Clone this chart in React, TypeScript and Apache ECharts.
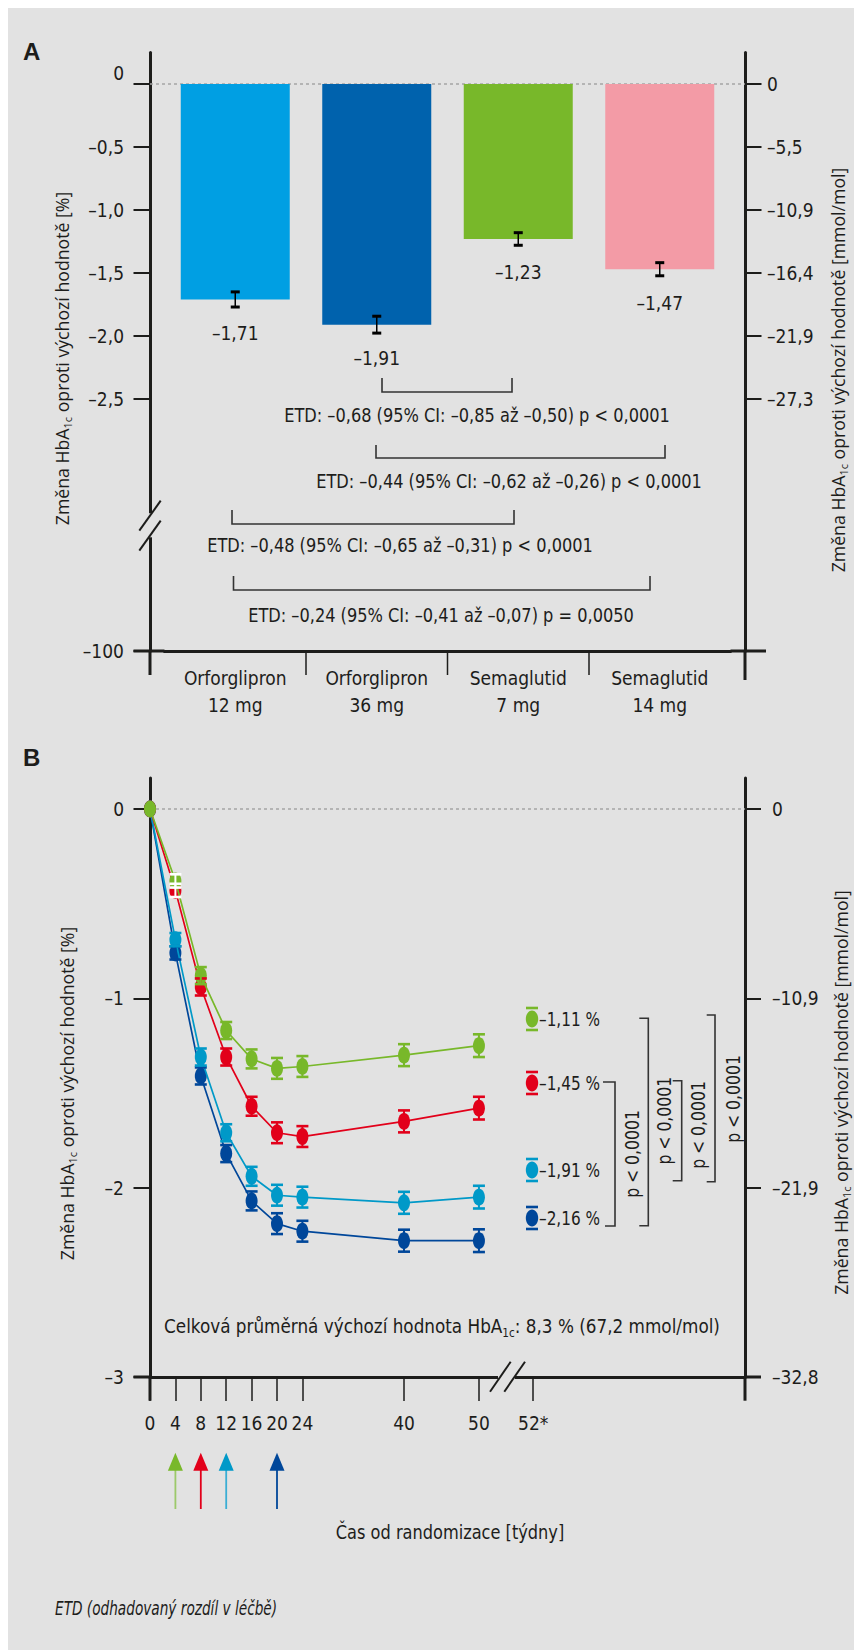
import React, { useEffect, useRef } from 'react';
import * as echarts from 'echarts';

// ---------- DATA ----------
const CATEGORIES = ['Orforglipron\n12 mg', 'Orforglipron\n36 mg', 'Semaglutid\n7 mg', 'Semaglutid\n14 mg'];
const BAR_VALUES = [-1.71, -1.91, -1.23, -1.47];
const BAR_ERRORS = [0.06, 0.067, 0.05, 0.052];
const BAR_COLORS = ['#009fe3', '#0062ad', '#78b82a', '#f39ba6'];

const A_TICK_VALUES = [0, -0.5, -1, -1.5, -2, -2.5, -4.5];
const A_TICK_LABELS = ['0', '–0,5', '–1,0', '–1,5', '–2,0', '–2,5', '–100'];
const A_RIGHT_VALUES = [0, -0.5, -1, -1.5, -2, -2.5];
const A_RIGHT_LABELS = ['0', '–5,5', '–10,9', '–16,4', '–21,9', '–27,3'];

const ETD_TEXTS = [
  'ETD: –0,68 (95% CI: –0,85 až –0,50) p < 0,0001',
  'ETD: –0,44 (95% CI: –0,62 až –0,26) p < 0,0001',
  'ETD: –0,48 (95% CI: –0,65 až –0,31) p < 0,0001',
  'ETD: –0,24 (95% CI: –0,41 až –0,07) p = 0,0050',
];

const WEEKS = [0, 4, 8, 12, 16, 20, 24, 40, 50];
const DBLUE_VALUES = [0, -0.76, -1.41, -1.82, -2.07, -2.19, -2.23, -2.28, -2.28];
const CYAN_VALUES = [0, -0.69, -1.31, -1.71, -1.94, -2.04, -2.05, -2.08, -2.05];
const RED_VALUES = [0, -0.43, -0.94, -1.31, -1.57, -1.71, -1.73, -1.65, -1.58];
const GREEN_VALUES = [0, -0.38, -0.88, -1.17, -1.32, -1.37, -1.36, -1.3, -1.25];
const B_ERRORS = [0, 0.035, 0.045, 0.045, 0.05, 0.055, 0.055, 0.058, 0.06];
const OPEN_MARKER_WEEK = 4;

const B_LEGEND_LABELS = ['–1,11 %', '–1,45 %', '–1,91 %', '–2,16 %'];
const B_P_TEXT = 'p < 0,0001';

const X_TICK_WEEKS = [0, 4, 8, 12, 16, 20, 24, 40, 50, 52];
const X_TICK_LABELS = ['0', '4', '8', '12', '16', '20', '24', '40', '50', '52*'];
const B_LEFT_VALUES = [0, -1, -2, -3];
const B_LEFT_LABELS = ['0', '–1', '–2', '–3'];
const B_RIGHT_LABELS = ['0', '–10,9', '–21,9', '–32,8'];
const ARROW_WEEKS = [4, 8, 12, 20];

// ---------- STYLE / LAYOUT ----------
const INK = '#1d1d1b';
const BG = '#e2e2e2';
const GREEN = '#78b82a';
const RED = '#e2001a';
const CYAN = '#0099c8';
const DBLUE = '#00479a';
const NARROW = "'Liberation Sans Narrow', 'Arial Narrow', 'DejaVu Sans Condensed', sans-serif";
const SANS = "'Open Sans', 'Noto Sans', sans-serif";
const FS = 19;

const GA = { left: 156.5, top: 44.5, width: 566, height: 598.5, yMin: -4.5, yMax: 0.25 };
const GB = { left: 142, top: 770, width: 595, height: 599, yMin: -3, yMax: 0.1637, xMax: 93.7 };

// stretched time axis of the figure (piecewise linear: 0–40 wk, 40–50 wk, break to 52*)
const axisPos = (w: number) => (w <= 40 ? w : w <= 50 ? 40 + (w - 40) * 1.18 : 51.8 + (w - 50) * 4.27);
const X_TICK_POS = X_TICK_WEEKS.map(axisPos);

const yA = (v: number) => GA.top + ((GA.yMax - v) / (GA.yMax - GA.yMin)) * GA.height;
const yB = (v: number) => GB.top + ((GB.yMax - v) / (GB.yMax - GB.yMin)) * GB.height;
const xB = (w: number) => GB.left + (axisPos(w) / GB.xMax) * GB.width;
const bandA = GA.width / CATEGORIES.length;

const lookup = (vals: number[], labels: string[]) => (v: number) => {
  const i = vals.findIndex((x) => Math.abs(x - v) < 1e-6);
  return i >= 0 ? labels[i] : '';
};

const txt = (x: number, y: number, text: string, o: any = {}) => ({
  type: 'text',
  x,
  y,
  z: 20,
  rotation: o.rotation || 0,
  scaleX: o.scaleX || 1,
  scaleY: 1,
  style: {
    text,
    fontSize: o.fontSize || FS,
    fontFamily: o.fontFamily || NARROW,
    fontStyle: o.fontStyle || 'normal',
    fontWeight: o.fontWeight || 'normal',
    fill: o.fill || INK,
    align: o.align || 'center',
    verticalAlign: 'middle',
    textAlign: o.align || 'center',
    textVerticalAlign: 'middle',
    lineHeight: o.lineHeight,
    rich: o.rich,
  },
});

const ln = (x1: number, y1: number, x2: number, y2: number, w = 1.5, c = INK, z = 20, dash?: number[]) => ({
  type: 'line',
  z,
  shape: { x1, y1, x2, y2 },
  style: { stroke: c, lineWidth: w, lineDash: dash },
});

const poly = (points: number[][], w = 1.5, c = '#333', z = 20) => ({
  type: 'polyline',
  z,
  shape: { points },
  style: { stroke: c, lineWidth: w, fill: null },
});

const errRender = (color: string, capW: number, capH: number, lw: number) => (params: any, api: any) => {
  const x = api.value(0);
  const v = api.value(1);
  const e = api.value(2);
  const c = api.value(3) ? '#ffffff' : color;
  const p0 = api.coord([x, v + e]);
  const p1 = api.coord([x, v - e]);
  return {
    type: 'group',
    children: [
      { type: 'line', shape: { x1: p0[0], y1: p0[1], x2: p1[0], y2: p1[1] }, style: { stroke: c, lineWidth: lw } },
      { type: 'rect', shape: { x: p0[0] - capW / 2, y: p0[1] - capH / 2, width: capW, height: capH }, style: { fill: c } },
      { type: 'rect', shape: { x: p1[0] - capW / 2, y: p1[1] - capH / 2, width: capW, height: capH }, style: { fill: c } },
    ],
  };
};

function buildOption() {
  const axisLabelBase = { fontSize: FS, fontFamily: NARROW, color: INK };
  const axisLineBase = { show: true, onZero: false, lineStyle: { color: INK, width: 3 } };

  const lineSeriesB = [
    { vals: DBLUE_VALUES, color: DBLUE, open: false },
    { vals: CYAN_VALUES, color: CYAN, open: false },
    { vals: RED_VALUES, color: RED, open: true },
    { vals: GREEN_VALUES, color: GREEN, open: true },
  ];

  const series: any[] = [
    {
      type: 'bar',
      xAxisIndex: 0,
      yAxisIndex: 0,
      barWidth: 109,
      data: BAR_VALUES.map((v, i) => ({ value: v, itemStyle: { color: BAR_COLORS[i] } })),
      label: {
        show: true,
        position: 'bottom',
        distance: 24,
        formatter: (p: any) => '–' + Math.abs(p.value).toFixed(2).replace('.', ','),
        ...axisLabelBase,
      },
    },
    {
      type: 'custom',
      xAxisIndex: 0,
      yAxisIndex: 0,
      z: 5,
      clip: false,
      renderItem: errRender('#000000', 9, 3, 1.5),
      data: BAR_VALUES.map((v, i) => [i, v, BAR_ERRORS[i], 0]),
    },
  ];

  lineSeriesB.forEach((s, k) => {
    series.push({
      type: 'line',
      xAxisIndex: 1,
      yAxisIndex: 2,
      z: 2 + k * 0.1,
      symbol: 'circle',
      symbolSize: [12, 17],
      showSymbol: true,
      itemStyle: { color: s.color },
      lineStyle: { color: s.color, width: 1.7 },
      data: WEEKS.map((w, i) => [axisPos(w), s.vals[i]]),
    });
    series.push({
      type: 'custom',
      xAxisIndex: 1,
      yAxisIndex: 2,
      z: 5 + k * 0.1,
      clip: false,
      renderItem: errRender(s.color, 12, 2.6, 2),
      data: WEEKS.map((w, i) => [axisPos(w), s.vals[i], B_ERRORS[i], s.open && w === OPEN_MARKER_WEEK ? 1 : 0]).filter(
        (d) => d[2] > 0
      ),
    });
  });

  const subRich = (fs: number, family: string) => ({
    s: { fontSize: fs, fontFamily: family, lineHeight: fs, verticalAlign: 'bottom', fill: INK },
  });

  const g: any[] = [];
  // zero reference lines
  g.push(ln(142, yA(0), 737, yA(0), 1.5, '#a5a5a5', 1, [3, 3]));
  g.push(ln(142, yB(0), 737, yB(0), 1.5, '#a5a5a5', 1, [3, 3]));

  // axis extensions (panel A)
  g.push(ln(142, GA.top + GA.height, 142, 667, 3, INK, 3));
  g.push(ln(737, GA.top + GA.height, 737, 672, 3, INK, 3));
  g.push(ln(125.5, GA.top + GA.height, GA.left, GA.top + GA.height, 3, INK, 3));
  g.push(ln(GA.left + GA.width, GA.top + GA.height, 758, GA.top + GA.height, 3, INK, 3));
  for (let i = 1; i < CATEGORIES.length; i++) {
    const x = GA.left + i * bandA;
    g.push(ln(x, GA.top + GA.height, x, 667, 1.5, INK, 3));
  }
  // axis extensions (panel B)
  const bBot = GB.top + GB.height;
  g.push(ln(142, bBot, 142, 1392.7, 3, INK, 3));
  g.push(ln(737, bBot, 737, 1392.7, 3, INK, 3));
  g.push(ln(125.5, bBot, 142, bBot, 3, INK, 3));
  g.push(ln(737, bBot, 753, bBot, 3, INK, 3));

  // axis breaks
  g.push({ type: 'rect', z: 50, shape: { x: 139, y: 505.3, width: 6, height: 24 }, style: { fill: BG } });
  g.push(ln(131.3, 522.7, 152.7, 492.7, 2, INK, 51));
  g.push(ln(131.3, 542.7, 152.7, 512.7, 2, INK, 51));
  g.push({ type: 'rect', z: 50, shape: { x: 490, y: bBot - 3, width: 17, height: 6 }, style: { fill: BG } });
  g.push(ln(482, 1383.7, 502.7, 1353.7, 2, INK, 51));
  g.push(ln(496.3, 1383.7, 517, 1353.7, 2, INK, 51));

  // ETD brackets (panel A)
  const brA = [
    { x1: 374, x2: 504, top: 370, bot: 384, tx: 469, ty: 407 },
    { x1: 368, x2: 657, top: 437, bot: 450, tx: 501, ty: 473 },
    { x1: 224, x2: 506, top: 502, bot: 516, tx: 392, ty: 537 },
    { x1: 225.5, x2: 642, top: 568, bot: 582, tx: 433, ty: 607 },
  ];
  brA.forEach((b, i) => {
    g.push(poly([[b.x1, b.top], [b.x1, b.bot], [b.x2, b.bot], [b.x2, b.top]], 1.6, '#333'));
    g.push(txt(b.tx, b.ty, ETD_TEXTS[i], { fontSize: 20, scaleX: 0.9 }));
  });

  // legend-like end labels (panel B)
  const legY = [1011, 1075, 1162, 1210];
  const legC = [GREEN, RED, CYAN, DBLUE];
  legY.forEach((y, i) => {
    g.push({ type: 'ellipse', z: 20, shape: { cx: 524, cy: y, rx: 6.2, ry: 8.5 }, style: { fill: legC[i] } });
    g.push({ type: 'rect', z: 20, shape: { x: 518, y: y - 12.3, width: 12, height: 2.6 }, style: { fill: legC[i] } });
    g.push({ type: 'rect', z: 20, shape: { x: 518, y: y + 9.7, width: 12, height: 2.6 }, style: { fill: legC[i] } });
    g.push(txt(531, y, B_LEGEND_LABELS[i], { align: 'left', fontSize: 20, scaleX: 0.85 }));
  });

  // p-value brackets (panel B)
  const brB = [
    { s1: 595, s2: 597, x: 607, y1: 1074, y2: 1218, tx: 623.7, ty: 1146 },
    { s1: 631.3, s2: 631.3, x: 640.3, y1: 1010.3, y2: 1217.7, tx: 656, ty: 1112.7 },
    { s1: 664.7, s2: 664.7, x: 673.7, y1: 1072.7, y2: 1172.7, tx: 690.3, ty: 1117 },
    { s1: 698.7, s2: 698.7, x: 707, y1: 1007, y2: 1173.7, tx: 725.3, ty: 1091 },
  ];
  brB.forEach((b) => {
    g.push(poly([[b.s1, b.y1], [b.x, b.y1], [b.x, b.y2], [b.s2, b.y2]], 1.6, '#333'));
    g.push(txt(b.tx, b.ty, B_P_TEXT, { rotation: Math.PI / 2, fontSize: 20, scaleX: 0.87 }));
  });

  // arrows
  const arrC = [GREEN, RED, CYAN, DBLUE];
  const shaftC = ['#9cc96a', RED, '#3aaed4', DBLUE];
  ARROW_WEEKS.forEach((w, i) => {
    const x = xB(w);
    g.push(ln(x, 1461, x, 1501, 1.8, shaftC[i], 20));
    g.push({
      type: 'polygon',
      z: 21,
      shape: { points: [[x, 1444.7], [x - 7.5, 1462.7], [x + 7.5, 1462.7]] },
      style: { fill: arrC[i] },
    });
  });

  // titles & notes
  g.push(txt(15, 43, 'A', { align: 'left', fontWeight: 'bold', fontSize: 24, fontFamily: "'Liberation Sans', sans-serif" }));
  g.push(txt(15, 749, 'B', { align: 'left', fontWeight: 'bold', fontSize: 24, fontFamily: "'Liberation Sans', sans-serif" }));

  const titleOpts = (rot: number) => ({
    rotation: rot,
    fontFamily: SANS,
    fontSize: 17.7,
    lineHeight: 22,
    rich: subRich(11, SANS),
  });
  g.push(txt(53.5, 350.5, 'Změna HbA{s|1c} oproti výchozí hodnotě [%]', titleOpts(Math.PI / 2)));
  g.push(txt(830, 362, 'Změna HbA{s|1c} oproti výchozí hodnotě [mmol/mol]', titleOpts(Math.PI / 2)));
  g.push(txt(58.5, 1085.5, 'Změna HbA{s|1c} oproti výchozí hodnotě [%]', titleOpts(Math.PI / 2)));
  g.push(txt(833, 1084.5, 'Změna HbA{s|1c} oproti výchozí hodnotě [mmol/mol]', titleOpts(Math.PI / 2)));

  g.push(
    txt(434, 1318.7, 'Celková průměrná výchozí hodnota HbA{s|1c}: 8,3 % (67,2 mmol/mol)', {
      fontSize: 20,
      scaleX: 0.935,
      lineHeight: 26,
      rich: subRich(12.5, NARROW),
    })
  );
  g.push(txt(442, 1523.7, 'Čas od randomizace [týdny]', { fontSize: 20, scaleX: 0.9 }));
  g.push(txt(47, 1600, 'ETD (odhadovaný rozdíl v léčbě)', { align: 'left', fontStyle: 'italic', fontSize: 19, scaleX: 0.8 }));

  return {
    animation: false,
    backgroundColor: BG,
    grid: [
      { left: GA.left, top: GA.top, width: GA.width, height: GA.height },
      { left: GB.left, top: GB.top, width: GB.width, height: GB.height },
    ],
    xAxis: [
      {
        type: 'category',
        gridIndex: 0,
        data: CATEGORIES,
        axisLine: axisLineBase,
        axisTick: { show: false },
        splitLine: { show: false },
        axisLabel: { ...axisLabelBase, margin: 13.5, lineHeight: 27, interval: 0 },
      },
      {
        type: 'value',
        gridIndex: 1,
        min: 0,
        max: GB.xMax,
        axisLine: axisLineBase,
        splitLine: { show: false },
        axisTick: { show: true, length: 24, lineStyle: { color: INK, width: 1.5 }, customValues: X_TICK_POS },
        axisLabel: {
          ...axisLabelBase,
          margin: 34.7,
          lineHeight: 22,
          customValues: X_TICK_POS,
          formatter: lookup(X_TICK_POS, X_TICK_LABELS),
        },
      },
    ],
    yAxis: [
      {
        type: 'value',
        gridIndex: 0,
        position: 'left',
        offset: 14.5,
        min: GA.yMin,
        max: GA.yMax,
        axisLine: axisLineBase,
        splitLine: { show: false },
        axisTick: { show: true, length: 16.5, lineStyle: { color: INK, width: 2 }, customValues: A_TICK_VALUES },
        axisLabel: {
          ...axisLabelBase,
          margin: 26,
          customValues: A_TICK_VALUES,
          formatter: (v: number) => (Math.abs(v) < 1e-6 ? '{up|0}' : lookup(A_TICK_VALUES, A_TICK_LABELS)(v)),
          rich: { up: { padding: [0, 0, 22, 0], fontSize: FS, fontFamily: NARROW, color: INK } },
        },
      },
      {
        type: 'value',
        gridIndex: 0,
        position: 'right',
        offset: 14.5,
        min: GA.yMin,
        max: GA.yMax,
        axisLine: axisLineBase,
        splitLine: { show: false },
        axisTick: { show: true, length: 16.5, lineStyle: { color: INK, width: 2 }, customValues: A_RIGHT_VALUES },
        axisLabel: {
          ...axisLabelBase,
          margin: 22,
          customValues: A_RIGHT_VALUES,
          formatter: lookup(A_RIGHT_VALUES, A_RIGHT_LABELS),
        },
      },
      {
        type: 'value',
        gridIndex: 1,
        position: 'left',
        min: GB.yMin,
        max: GB.yMax,
        axisLine: axisLineBase,
        splitLine: { show: false },
        axisTick: { show: true, length: 16.5, lineStyle: { color: INK, width: 2 }, customValues: B_LEFT_VALUES },
        axisLabel: {
          ...axisLabelBase,
          margin: 26,
          customValues: B_LEFT_VALUES,
          formatter: lookup(B_LEFT_VALUES, B_LEFT_LABELS),
        },
      },
      {
        type: 'value',
        gridIndex: 1,
        position: 'right',
        min: GB.yMin,
        max: GB.yMax,
        axisLine: axisLineBase,
        splitLine: { show: false },
        axisTick: { show: true, length: 16, lineStyle: { color: INK, width: 2 }, customValues: B_LEFT_VALUES },
        axisLabel: {
          ...axisLabelBase,
          margin: 27,
          customValues: B_LEFT_VALUES,
          formatter: lookup(B_LEFT_VALUES, B_RIGHT_LABELS),
        },
      },
    ],
    series,
    graphic: { elements: g },
  };
}

export default function App() {
  const ref = useRef<HTMLDivElement>(null);
  useEffect(() => {
    document.documentElement.style.overflow = 'hidden';
    document.body.style.overflow = 'hidden';
    if (!ref.current) return;
    const chart = echarts.init(ref.current, undefined, { renderer: 'svg' });
    chart.setOption(buildOption() as any);
    return () => chart.dispose();
  }, []);
  return <div ref={ref} style={{ width: 854, height: 1642 }} />;
}
